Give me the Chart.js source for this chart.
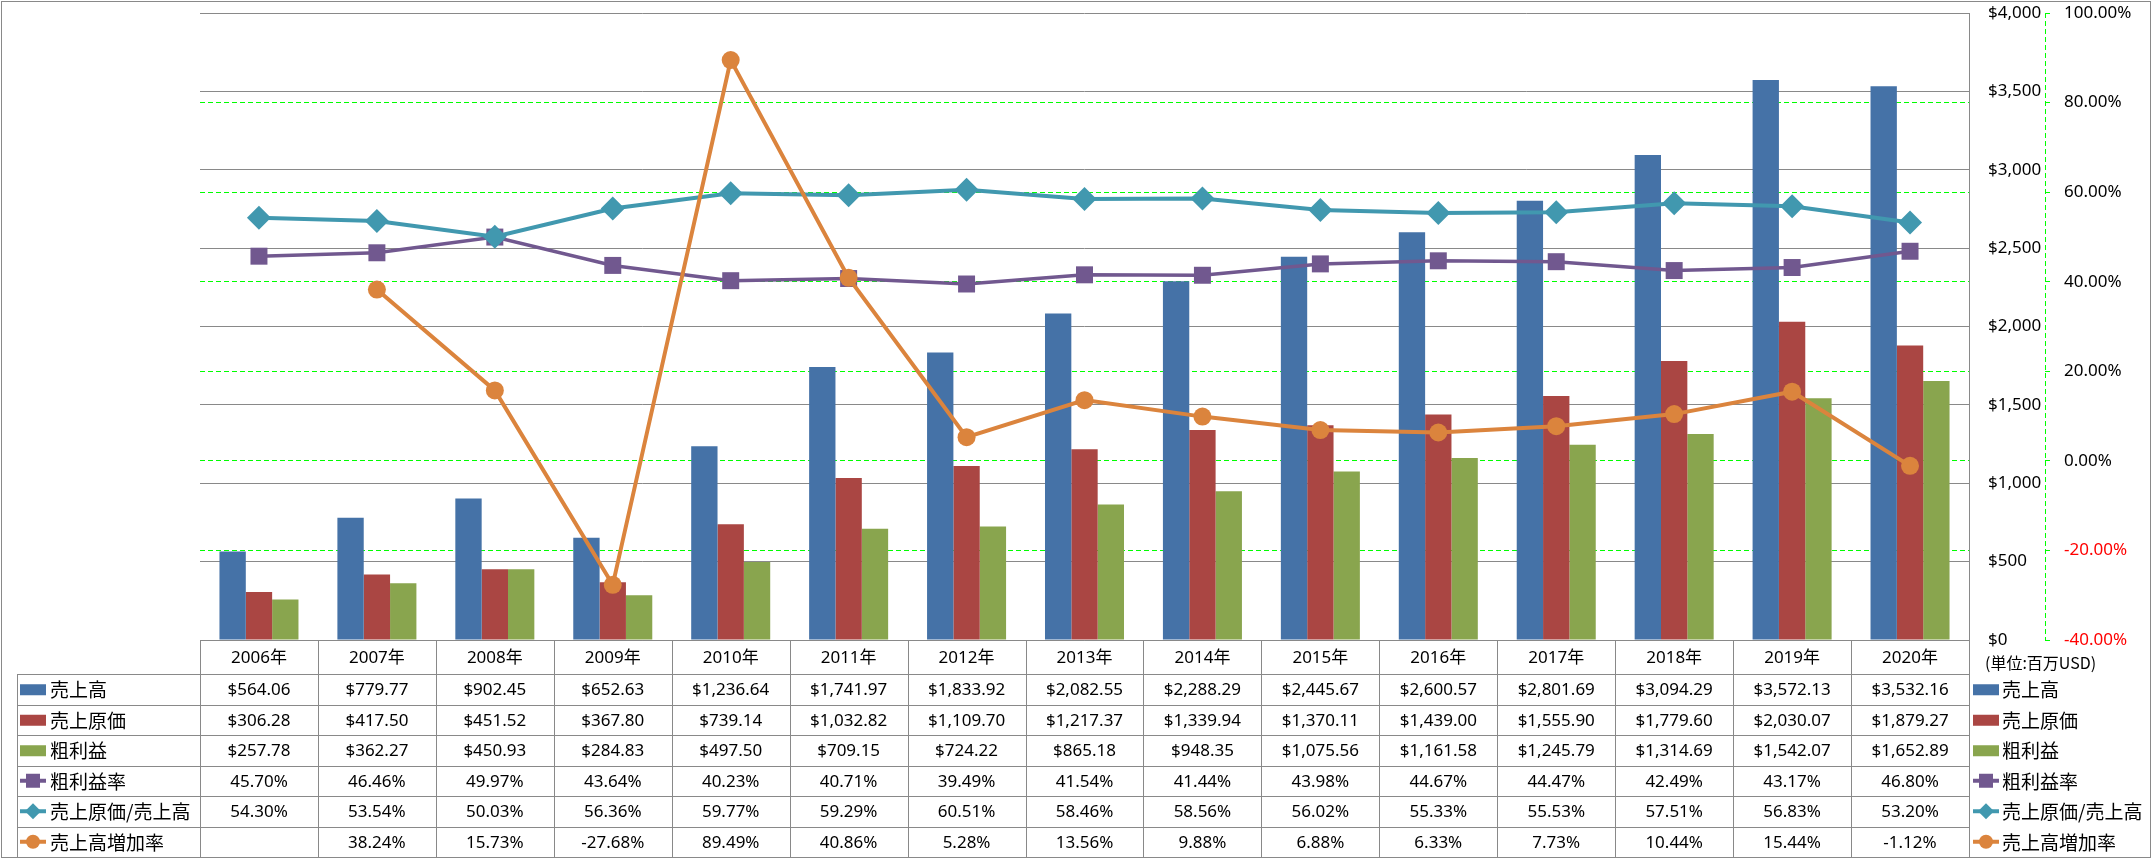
<!DOCTYPE html>
<html>
<head>
<meta charset="utf-8">
<script src="https://cdn.jsdelivr.net/npm/chart.js@4/dist/chart.umd.min.js"></script>
<style>
  body { margin: 0; background: #fff; }
  canvas { display: block; }
</style>
</head>
<body>
<canvas id="chart" width="2156" height="858"></canvas>
<script>
(function() {

  "use strict";

  var years = ['2006年','2007年','2008年','2009年','2010年','2011年','2012年','2013年','2014年','2015年','2016年','2017年','2018年','2019年','2020年'];

  // 単位: 百万USD
  var sales = [564.06, 779.77, 902.45, 652.63, 1236.64, 1741.97, 1833.92, 2082.55, 2288.29, 2445.67, 2600.57, 2801.69, 3094.29, 3572.13, 3532.16];
  var cost  = [306.28, 417.50, 451.52, 367.80, 739.14, 1032.82, 1109.70, 1217.37, 1339.94, 1370.11, 1439.00, 1555.90, 1779.60, 2030.07, 1879.27];
  var gross = [257.78, 362.27, 450.93, 284.83, 497.50, 709.15, 724.22, 865.18, 948.35, 1075.56, 1161.58, 1245.79, 1314.69, 1542.07, 1652.89];

  // %
  var grossRate = [45.70, 46.46, 49.97, 43.64, 40.23, 40.71, 39.49, 41.54, 41.44, 43.98, 44.67, 44.47, 42.49, 43.17, 46.80];
  var costRate  = [54.30, 53.54, 50.03, 56.36, 59.77, 59.29, 60.51, 58.46, 58.56, 56.02, 55.33, 55.53, 57.51, 56.83, 53.20];
  var growth    = [null, 38.24, 15.73, -27.68, 89.49, 40.86, 5.28, 13.56, 9.88, 6.88, 6.33, 7.73, 10.44, 15.44, -1.12];

  var dollarTicks = [0, 4000, 500];
  var percentTicks = [-40, 100, 20];

  var names = ['売上高', '売上原価', '粗利益', '粗利益率', '売上原価/売上高', '売上高増加率'];
  var colors = ['#4572A7', '#AA4643', '#89A54E', '#71588F', '#4198AF', '#DB843D'];

  var numFont = '"Noto Sans", "Noto Sans CJK JP", sans-serif';
  var jpFont = '"Noto Sans CJK JP", "Noto Sans", sans-serif';
  var lineGray = '#898989';
  var green = '#00FF00';

  var fmtDollar = function(v) {
    return '$' + v.toLocaleString('en-US', { minimumFractionDigits: 2, maximumFractionDigits: 2 });
  }
  var fmtPct = function(v) {
    return v === null ? '' : v.toFixed(2) + '%';
  }

  var rows = [
    { values: sales, fmt: fmtDollar, kind: 'bar' },
    { values: cost, fmt: fmtDollar, kind: 'bar' },
    { values: gross, fmt: fmtDollar, kind: 'bar' },
    { values: grossRate, fmt: fmtPct, kind: 'rect' },
    { values: costRate, fmt: fmtPct, kind: 'diamond' },
    { values: growth, fmt: fmtPct, kind: 'circle' }
  ];

  var drawKey = function(ctx, kind, color, x, y) {
    ctx.save();
    ctx.fillStyle = color;
    ctx.strokeStyle = color;
    if (kind === 'bar') {
      ctx.fillRect(x, y - 5, 26, 11);
    } else {
      ctx.lineWidth = 4;
      ctx.beginPath();
      ctx.moveTo(x, y);
      ctx.lineTo(x + 26, y);
      ctx.stroke();
      var cx = x + 13;
      ctx.beginPath();
      if (kind === 'rect') {
        ctx.rect(cx - 7, y - 7, 14, 14);
      } else if (kind === 'diamond') {
        ctx.moveTo(cx, y - 8);
        ctx.lineTo(cx + 8, y);
        ctx.lineTo(cx, y + 8);
        ctx.lineTo(cx - 8, y);
        ctx.closePath();
      } else {
        ctx.arc(cx, y, 7, 0, Math.PI * 2);
      }
      ctx.fill();
    }
    ctx.restore();
  }

  // data table under the plot, with legend keys on both sides
  var dataTable = {
    id: 'dataTable',
    afterDraw: function(chart) {
      var ctx = chart.ctx;
      var area = chart.chartArea;
      var n = years.length;
      var colW = (area.right - area.left) / n;
      var top = area.bottom;
      var headH = 34;
      var bottom = 857;
      var rowH = (bottom - top - headH) / rows.length;
      var tableLeft = 17;
      var i, r, x, y;

      ctx.save();
      ctx.strokeStyle = lineGray;
      ctx.lineWidth = 1;
      ctx.beginPath();
      // horizontal lines
      ctx.moveTo(area.left, Math.round(top) + 0.5);
      ctx.lineTo(area.right, Math.round(top) + 0.5);
      for (r = 0; r <= rows.length; r++) {
        y = Math.round(top + headH + r * rowH) + 0.5;
        ctx.moveTo(tableLeft, y);
        ctx.lineTo(area.right, y);
      }
      // vertical lines
      for (i = 0; i <= n; i++) {
        x = Math.round(area.left + i * colW) + 0.5;
        ctx.moveTo(x, top);
        ctx.lineTo(x, bottom);
      }
      ctx.moveTo(tableLeft + 0.5, top + headH);
      ctx.lineTo(tableLeft + 0.5, bottom);
      ctx.stroke();

      // years
      ctx.fillStyle = '#000';
      ctx.textAlign = 'center';
      ctx.textBaseline = 'middle';
      ctx.font = '17px ' + numFont;
      for (i = 0; i < n; i++) {
        ctx.fillText(years[i], area.left + (i + 0.5) * colW, top + headH / 2 + 1);
      }

      // values
      for (r = 0; r < rows.length; r++) {
        y = top + headH + (r + 0.5) * rowH + 1;
        for (i = 0; i < n; i++) {
          var v = rows[r].values[i];
          if (v === null) continue;
          ctx.fillText(rows[r].fmt(v), area.left + (i + 0.5) * colW, y);
        }
      }

      // legend keys, left and right
      ctx.textAlign = 'left';
      ctx.font = '19px ' + jpFont;
      for (r = 0; r < rows.length; r++) {
        y = top + headH + (r + 0.5) * rowH;
        drawKey(ctx, rows[r].kind, colors[r], 20, y);
        drawKey(ctx, rows[r].kind, colors[r], area.right + 4, y);
        ctx.fillStyle = '#000';
        ctx.fillText(names[r], 50, y + 1);
        ctx.fillText(names[r], area.right + 33, y + 1);
      }

      // unit note
      ctx.font = '16px ' + jpFont;
      ctx.fillText('(単位:百万USD)', area.right + 16, top + 23);

      // dashed axis line of the percent scale
      var p = chart.scales.y1;
      ctx.strokeStyle = green;
      ctx.setLineDash([5, 3]);
      ctx.beginPath();
      ctx.moveTo(Math.round(p.left) + 0.5, p.top);
      ctx.lineTo(Math.round(p.left) + 0.5, p.bottom);
      ctx.stroke();

      // outer frame
      ctx.setLineDash([]);
      ctx.strokeStyle = lineGray;
      ctx.strokeRect(1.5, 1.5, 2149, 856);
      ctx.restore();
    }
  }

  var initChart = function() {
    new Chart(document.getElementById('chart'), {
      type: 'bar',
      data: {
        labels: years,
        datasets: [{
          label: names[5],
          type: 'line',
          data: growth,
          yAxisID: 'y1',
          order: 0,
          borderColor: colors[5],
          backgroundColor: colors[5],
          borderWidth: 4,
          pointStyle: 'circle',
          pointRadius: 9,
          pointBorderWidth: 0
        }, {
          label: names[4],
          type: 'line',
          data: costRate,
          yAxisID: 'y1',
          order: 1,
          borderColor: colors[4],
          backgroundColor: colors[4],
          borderWidth: 4,
          pointStyle: 'rectRot',
          pointRadius: 12,
          pointBorderWidth: 0
        }, {
          label: names[3],
          type: 'line',
          data: grossRate,
          yAxisID: 'y1',
          order: 2,
          borderColor: colors[3],
          backgroundColor: colors[3],
          borderWidth: 3.5,
          pointStyle: 'rect',
          pointRadius: 12,
          pointBorderWidth: 0
        }, {
          label: names[0],
          data: sales,
          yAxisID: 'y',
          order: 3,
          backgroundColor: colors[0]
        }, {
          label: names[1],
          data: cost,
          yAxisID: 'y',
          order: 3,
          backgroundColor: colors[1]
        }, {
          label: names[2],
          data: gross,
          yAxisID: 'y',
          order: 3,
          backgroundColor: colors[2]
        }]
      },
      options: {
        responsive: false,
        animation: false,
        devicePixelRatio: 1,
        categoryPercentage: 0.67,
        barPercentage: 1.0,
        layout: {
          padding: { left: 200, top: 13, right: 6, bottom: 218 }
        },
        plugins: {
          legend: false,
          tooltip: false
        },
        scales: {
          x: {
            display: false
          },
          y: {
            position: 'right',
            min: dollarTicks[0],
            max: dollarTicks[1],
            afterFit: function(scale) {
              scale.width = 76;
              scale.paddingTop = 0;
              scale.paddingBottom = 0;
            },
            ticks: {
              stepSize: dollarTicks[2],
              padding: 19,
              color: '#000',
              font: { family: numFont, size: 17 },
              callback: function(v) { return '$' + v.toLocaleString('en-US'); }
            },
            grid: {
              color: lineGray,
              lineWidth: 1,
              drawTicks: false
            },
            border: {
              display: true,
              color: lineGray,
              width: 1
            }
          },
          y1: {
            position: 'right',
            min: percentTicks[0],
            max: percentTicks[1],
            afterFit: function(scale) {
              scale.width = 105;
              scale.paddingTop = 0;
              scale.paddingBottom = 0;
            },
            ticks: {
              stepSize: percentTicks[2],
              padding: 14,
              font: { family: numFont, size: 17 },
              color: function(c) { return c.tick && c.tick.value < 0 ? '#FF0000' : '#000'; },
              callback: function(v) { return v.toFixed(2) + '%'; }
            },
            grid: {
              color: function(c) {
                var v = c.tick ? c.tick.value : 0;
                return (v === percentTicks[0] || v === percentTicks[1]) ? 'rgba(0,0,0,0)' : green;
              },
              lineWidth: 1,
              tickLength: 5,
              tickColor: green
            },
            border: {
              display: false,
              dash: [5, 3]
            }
          }
        }
      },
      plugins: [dataTable]
    });
  }

  initChart();

})();
</script>
</body>
</html>
